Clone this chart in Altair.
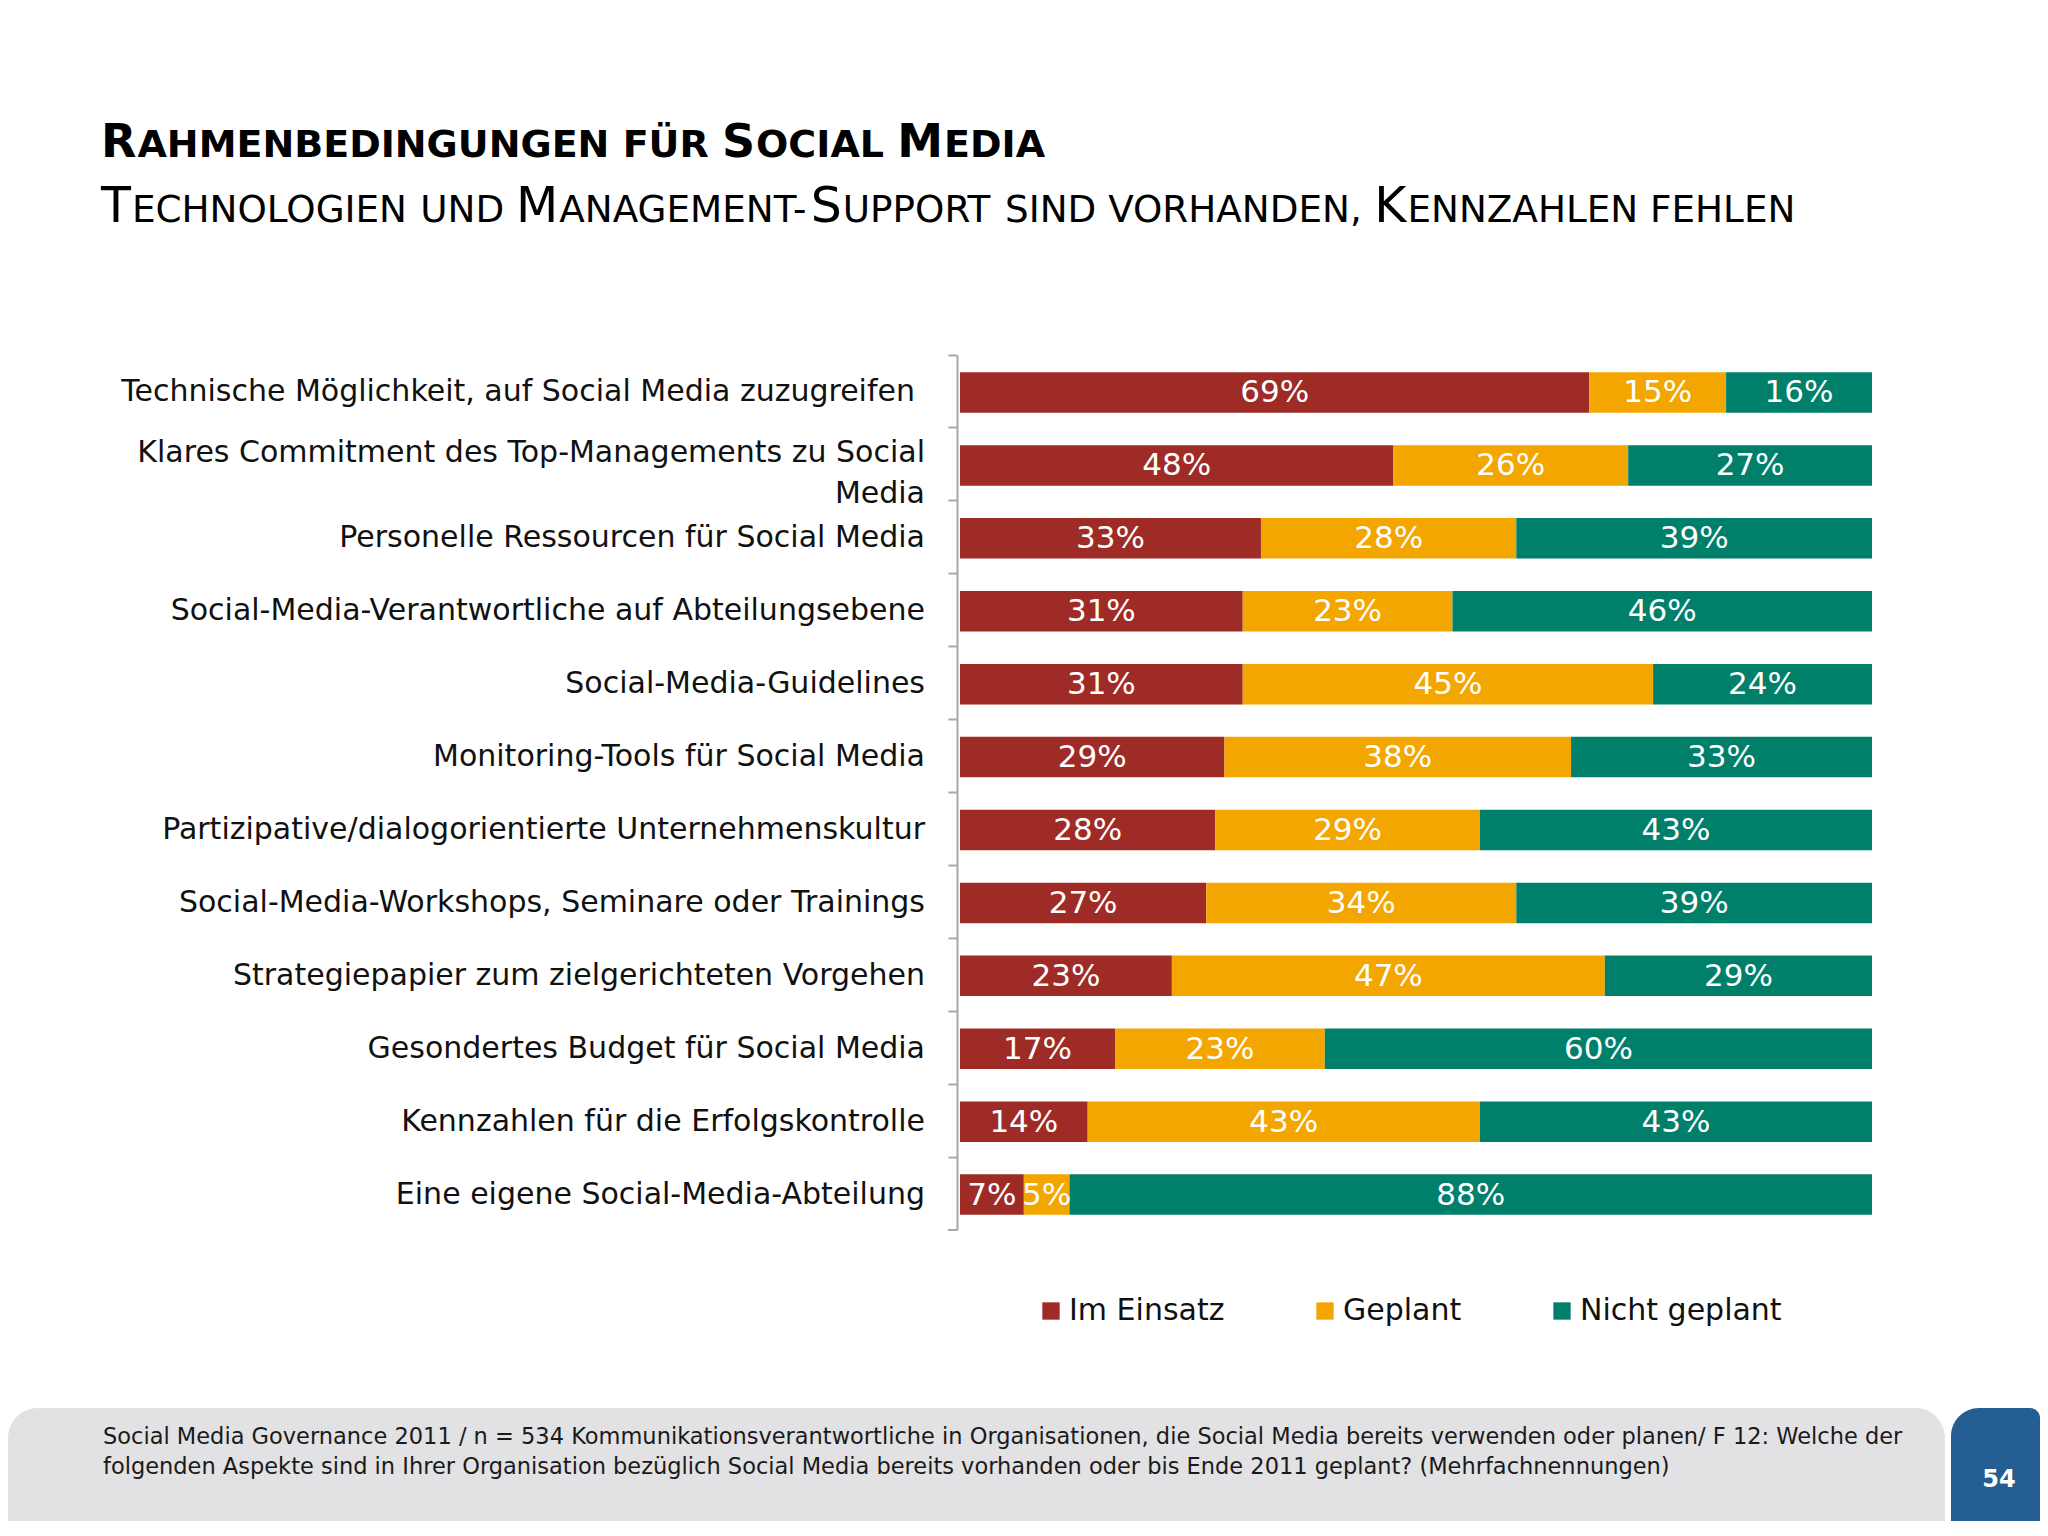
import altair as alt
import pandas as pd

# ---------------- data ----------------
categories = [
    "Technische Möglichkeit, auf Social Media zuzugreifen",
    "Klares Commitment des Top-Managements zu Social Media",
    "Personelle Ressourcen für Social Media",
    "Social-Media-Verantwortliche auf Abteilungsebene",
    "Social-Media-Guidelines",
    "Monitoring-Tools für Social Media",
    "Partizipative/dialogorientierte Unternehmenskultur",
    "Social-Media-Workshops, Seminare oder Trainings",
    "Strategiepapier zum zielgerichteten Vorgehen",
    "Gesondertes Budget für Social Media",
    "Kennzahlen für die Erfolgskontrolle",
    "Eine eigene Social-Media-Abteilung",
]
display_labels = [
    "Technische Möglichkeit, auf Social Media zuzugreifen ",
    "Klares Commitment des Top-Managements zu Social\nMedia",
    "Personelle Ressourcen für Social Media",
    "Social-Media-Verantwortliche auf Abteilungsebene",
    "Social-Media-Guidelines",
    "Monitoring-Tools für Social Media",
    "Partizipative/dialogorientierte Unternehmenskultur",
    "Social-Media-Workshops, Seminare oder Trainings",
    "Strategiepapier zum zielgerichteten Vorgehen",
    "Gesondertes Budget für Social Media",
    "Kennzahlen für die Erfolgskontrolle",
    "Eine eigene Social-Media-Abteilung",
]
im_einsatz = [69, 48, 33, 31, 31, 29, 28, 27, 23, 17, 14, 7]
geplant = [15, 26, 28, 23, 45, 38, 29, 34, 47, 23, 43, 5]
nicht_geplant = [16, 27, 39, 46, 24, 33, 43, 39, 29, 60, 43, 88]
series = ["Im Einsatz", "Geplant", "Nicht geplant"]
colors = ["#9F2B27", "#F4A600", "#007F6B"]

title_line1 = "Rahmenbedingungen für Social Media"
title_line2 = "Technologien und Management-Support sind vorhanden, Kennzahlen fehlen"
footer_text = (
    "Social Media Governance 2011 / n = 534 Kommunikationsverantwortliche in Organisationen, "
    "die Social Media bereits verwenden oder planen/ F 12: Welche der\n"
    "folgenden Aspekte sind in Ihrer Organisation bezüglich Social Media bereits vorhanden "
    "oder bis Ende 2011 geplant? (Mehrfachnennungen)"
)
page_number = "54"

# ---------------- tables ----------------
rows = []
for i, cat in enumerate(categories):
    for k, (s, vals) in enumerate(zip(series, [im_einsatz, geplant, nicht_geplant])):
        rows.append({"cat": cat, "series": s, "value": vals[i], "order": k})
long_df = pd.DataFrame(rows)
label_df = pd.DataFrame({
    "cat": categories,
    "disp": [d.strip(" ") for d in display_labels],
    "nl": [d.count("\n") + 1 for d in display_labels],
    "trail": [d.endswith(" ") for d in display_labels],
})
one = pd.DataFrame({"a": [0]})

FONT = "DejaVu Sans"
OX, OY = 960, 355          # screen position of the plot origin
W, H = 912, 875            # plot area
TOTAL_W, TOTAL_H = 2032, 1513


def px(x):
    return x - OX


def py(y):
    return y - OY


AXIS = alt.Axis(
    title=None,
    labels=False,
    bandPosition=0,
    offset=3,
    tickSize=9,
    tickWidth=2,
    tickColor="#A8A8A8",
    domainColor="#A8A8A8",
    domainWidth=2,
    grid=False,
)
YSCALE = alt.Scale(domain=categories, paddingInner=0, paddingOuter=0)


def yenc():
    return alt.Y("cat:N", sort=categories, scale=YSCALE, axis=AXIS)


xscale = alt.Scale(domain=[0, 1], nice=False, zero=True)

stacked = (
    alt.Chart(long_df)
    .transform_joinaggregate(total="sum(value)", groupby=["cat"])
    .transform_calculate(pct="datum.value / datum.total")
    .transform_stack(
        stack="pct", groupby=["cat"], as_=["p0", "p1"], sort=[alt.SortField("order")]
    )
    .transform_calculate(mid="(datum.p0 + datum.p1) / 2", lbl="datum.value + '%'")
)

bars = stacked.mark_bar(size=40.5, yOffset=1).encode(
    x=alt.X("p0:Q", scale=xscale, axis=None),
    x2="p1:Q",
    y=yenc(),
    color=alt.Color(
        "series:N",
        scale=alt.Scale(domain=series, range=colors),
        sort=series,
        legend=alt.Legend(
            title=None,
            orient="none",
            direction="horizontal",
            legendX=76,
            legendY=941,
            symbolType="square",
            symbolSize=300,
            symbolStrokeWidth=0,
            labelFont=FONT,
            labelFontSize=30,
            labelColor="#111111",
            labelLimit=400,
            labelOffset=3,
            columnPadding=85,
        ),
    ),
    order=alt.Order("order:Q"),
)

bar_text = stacked.mark_text(
    font=FONT, fontSize=31, color="white", align="center", baseline="middle", dy=2
).encode(
    x=alt.X("mid:Q", scale=xscale, axis=None),
    y=yenc(),
    text="lbl:N",
)

LABEL_X = px(925)
cat_labels_1 = alt.Chart(label_df).transform_filter(
    "datum.nl == 1 && !datum.trail"
).mark_text(
    font=FONT, fontSize=30, color="#111111", align="right", baseline="middle", dy=1,
).encode(x=alt.value(LABEL_X), y=yenc(), text="disp:N")

cat_labels_trail = alt.Chart(label_df).transform_filter(
    "datum.nl == 1 && datum.trail"
).mark_text(
    font=FONT, fontSize=30, color="#111111", align="right", baseline="middle", dy=1,
    dx=-10,
).encode(x=alt.value(LABEL_X), y=yenc(), text="disp:N")

cat_labels_2 = alt.Chart(label_df).transform_filter("datum.nl > 1").mark_text(
    font=FONT, fontSize=30, color="#111111", align="right", baseline="middle",
    lineBreak="\n", lineHeight=40.5, dy=-11,
).encode(x=alt.value(LABEL_X), y=yenc(), text="disp:N")

bottom_tick = alt.Chart(one).mark_rule(color="#A8A8A8", strokeWidth=2).encode(
    x=alt.value(-12), x2=alt.value(-3), y=alt.value(H)
)

# ---------------- decoration ----------------
bottom_edge = 8 + TOTAL_H
right_edge = 8 + TOTAL_W
gray_box = alt.Chart(one).mark_rect(
    color="#E2E1E3", cornerRadiusTopLeft=30, cornerRadiusTopRight=30
).encode(
    x=alt.value(px(8)), x2=alt.value(px(1945)), y=alt.value(py(1408)), y2=alt.value(py(bottom_edge))
)
blue_box = alt.Chart(one).mark_rect(
    color="#255E92", cornerRadiusTopLeft=28, cornerRadiusTopRight=10
).encode(
    x=alt.value(px(1951)), x2=alt.value(px(right_edge)), y=alt.value(py(1408)), y2=alt.value(py(bottom_edge))
)
footer = alt.Chart(one).mark_text(
    text=footer_text, font=FONT, fontSize=22.5, color="#1A1A1A", align="left",
    baseline="alphabetic", lineBreak="\n", lineHeight=30,
).encode(x=alt.value(px(103)), y=alt.value(py(1444)))
page = alt.Chart(one).mark_text(
    text=page_number, font=FONT, fontSize=24, fontWeight="bold", color="white",
    align="center", baseline="alphabetic",
).encode(x=alt.value(px(1999)), y=alt.value(py(1487)))

# ---- title in small caps: big initial capitals + smaller capitals ----
ADV_REG = {"A": .684, "B": .686, "C": .698, "D": .770, "E": .632, "F": .575, "G": .775,
           "H": .752, "I": .295, "K": .656, "L": .557, "M": .863, "N": .748, "O": .787,
           "P": .603, "R": .695, "S": .635, "T": .611, "U": .732, "V": .684, "Z": .685,
           "Ü": .732, " ": .318, ",": .318, "-": .361}
ADV_BOLD = {"A": .774, "B": .762, "C": .734, "D": .830, "E": .683, "F": .683, "G": .821,
            "H": .837, "I": .372, "L": .637, "M": .995, "N": .837, "O": .850, "R": .770,
            "S": .720, "U": .812, "Ü": .812, " ": .348}


def seg(text, x, y, size, bold):
    return alt.Chart(one).mark_text(
        text=text, font=FONT, fontSize=size, fontWeight="bold" if bold else "normal",
        color="#000000", align="left", baseline="alphabetic",
    ).encode(x=alt.value(px(x)), y=alt.value(py(y)))


def small_caps(text, x0, y, big, small, bold):
    adv = ADV_BOLD if bold else ADV_REG
    layers = []
    x = x0
    for wi, word in enumerate(text.split(" ")):
        if wi > 0:
            x += adv[" "] * small
        runs = []
        for ch in word:
            is_big = ch.isupper()
            c = ch.upper()
            if runs and runs[-1][0] == is_big:
                runs[-1][1] += c
            else:
                runs.append([is_big, c])
        for is_big, chars in runs:
            size = big if is_big else small
            layers.append(seg(chars, x, y, size, bold))
            x += sum(adv.get(c, .6) for c in chars) * size + (1 if is_big else 0)
    return layers


title_layers = small_caps(title_line1, 101, 157, 46, 38, True)
title_layers += small_caps(title_line2, 101, 222, 49, 37.3, False)

chart = alt.layer(
    gray_box, blue_box, footer, page, *title_layers,
    bars, bar_text, cat_labels_1, cat_labels_trail, cat_labels_2, bottom_tick,
).properties(
    width=W,
    height=H,
    padding={"left": OX - 8, "top": OY - 8,
             "right": TOTAL_W - (OX - 8) - W,
             "bottom": TOTAL_H - (OY - 8) - H},
    autosize=alt.AutoSizeParams(type="none"),
    background="white",
).configure_view(stroke=None)

chart.save("out.html", embed_options={"renderer": "svg", "actions": False})
